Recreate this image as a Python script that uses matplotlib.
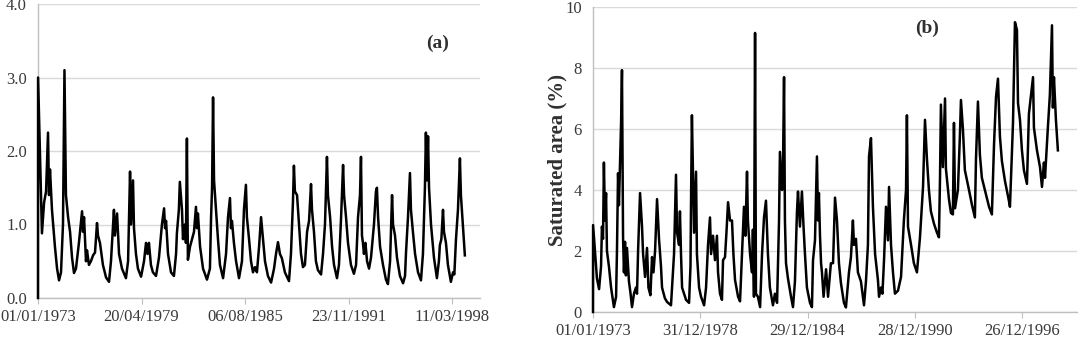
import matplotlib
matplotlib.use("Agg")
import matplotlib.pyplot as plt
import numpy as np

# ---------------- data ----------------
# Panel (a): decimal year, value
a_year = [1973.00, 1973.005, 1973.24, 1973.37, 1973.49, 1973.61, 1973.67, 1973.73, 1973.85, 1974.03,
          1974.16, 1974.28, 1974.40, 1974.52, 1974.61, 1974.70, 1974.83, 1974.95, 1975.07, 1975.19,
          1975.31, 1975.49, 1975.68, 1975.74, 1975.80, 1975.92, 1975.98, 1976.10, 1976.22, 1976.35,
          1976.47, 1976.59, 1976.65, 1976.77, 1976.95, 1977.14, 1977.32, 1977.44, 1977.62, 1977.68,
          1977.81, 1977.93, 1978.11, 1978.35, 1978.48, 1978.60, 1978.66, 1978.78, 1978.84, 1978.96,
          1979.08, 1979.27, 1979.45, 1979.57, 1979.66, 1979.75, 1979.87, 1979.99, 1980.18, 1980.36,
          1980.54, 1980.67, 1980.73, 1980.79, 1980.91, 1981.09, 1981.27, 1981.40, 1981.45, 1981.57,
          1981.63, 1981.76, 1981.82, 1981.94, 1982.00, 1982.06, 1982.12, 1982.25, 1982.49, 1982.61,
          1982.67, 1982.73, 1982.86, 1983.04, 1983.28, 1983.46, 1983.53, 1983.59, 1983.65, 1983.71,
          1983.83, 1983.95, 1984.07, 1984.26, 1984.44, 1984.56, 1984.68, 1984.74, 1984.80, 1984.92,
          1985.05, 1985.23, 1985.41, 1985.53, 1985.65, 1985.71, 1985.84, 1985.96, 1986.08, 1986.20,
          1986.32, 1986.45, 1986.57, 1986.69, 1986.81, 1986.99, 1987.18, 1987.36, 1987.48, 1987.60,
          1987.72, 1987.84, 1988.02, 1988.27, 1988.39, 1988.51, 1988.57, 1988.63, 1988.76, 1988.88,
          1989.00, 1989.12, 1989.24, 1989.37, 1989.49, 1989.61, 1989.67, 1989.79, 1989.91, 1990.03,
          1990.22, 1990.34, 1990.46, 1990.58, 1990.64, 1990.77, 1990.89, 1991.01, 1991.19, 1991.31,
          1991.44, 1991.56, 1991.62, 1991.74, 1991.86, 1992.04, 1992.22, 1992.35, 1992.47, 1992.59,
          1992.65, 1992.71, 1992.77, 1992.83, 1992.92, 1993.02, 1993.14, 1993.26, 1993.44, 1993.56,
          1993.62, 1993.69, 1993.81, 1993.99, 1994.17, 1994.29, 1994.42, 1994.54, 1994.60, 1994.72,
          1994.84, 1995.02, 1995.21, 1995.33, 1995.39, 1995.51, 1995.63, 1995.69, 1995.81, 1995.94,
          1996.12, 1996.30, 1996.42, 1996.54, 1996.60, 1996.66, 1996.73, 1996.79, 1996.91, 1997.09,
          1997.27, 1997.39, 1997.45, 1997.54, 1997.64, 1997.70, 1997.82, 1997.94, 1998.12, 1998.25,
          1998.33, 1998.43, 1998.55, 1998.67, 1998.73, 1998.85, 1998.97]
a_val = [0.00, 3.00, 0.88, 1.30, 1.45, 2.25, 1.40, 1.75, 1.20, 0.70,
         0.40, 0.24, 0.35, 1.00, 3.10, 1.40, 1.10, 0.90, 0.55, 0.34,
         0.40, 0.75, 1.18, 0.90, 1.10, 0.50, 0.65, 0.45, 0.50, 0.58,
         0.62, 1.02, 0.85, 0.75, 0.45, 0.28, 0.22, 0.50, 1.20, 0.85,
         1.15, 0.60, 0.40, 0.27, 0.50, 1.72, 1.00, 1.60, 0.95, 0.60,
         0.40, 0.29, 0.50, 0.75, 0.60, 0.75, 0.45, 0.35, 0.30, 0.55,
         1.00, 1.22, 0.95, 1.05, 0.60, 0.35, 0.30, 0.60, 0.88, 1.20,
         1.58, 1.20, 0.80, 1.00, 0.75, 2.17, 0.52, 0.70, 0.90, 1.24,
         0.95, 1.15, 0.70, 0.40, 0.25, 0.40, 1.10, 1.50, 2.73, 1.60,
         1.20, 0.80, 0.45, 0.27, 0.60, 1.10, 1.36, 0.95, 1.05, 0.75,
         0.50, 0.27, 0.50, 1.20, 1.54, 1.10, 0.80, 0.50, 0.35, 0.42,
         0.35, 0.70, 1.10, 0.80, 0.50, 0.30, 0.21, 0.40, 0.60, 0.76,
         0.60, 0.54, 0.35, 0.23, 0.60, 1.30, 1.80, 1.45, 1.40, 1.00,
         0.60, 0.42, 0.45, 0.90, 1.05, 1.55, 1.20, 0.90, 0.50, 0.38,
         0.32, 0.60, 1.00, 1.92, 1.40, 1.10, 0.70, 0.45, 0.27, 0.45,
         1.10, 1.81, 1.40, 1.10, 0.75, 0.45, 0.33, 0.45, 1.10, 1.40,
         1.92, 0.85, 0.75, 0.60, 0.75, 0.50, 0.40, 0.55, 1.00, 1.45,
         1.50, 1.10, 0.70, 0.45, 0.25, 0.19, 0.50, 1.40, 1.00, 0.85,
         0.55, 0.30, 0.20, 0.30, 0.62, 1.10, 1.70, 1.20, 0.90, 0.60,
         0.35, 0.24, 0.60, 1.50, 2.25, 1.60, 2.20, 1.50, 1.00, 0.55,
         0.27, 0.50, 0.72, 0.80, 1.20, 0.90, 0.75, 0.45, 0.22, 0.35,
         0.32, 0.80, 1.20, 1.90, 1.40, 1.00, 0.58]

# Panel (b): decimal year, saturated area (%)
b_year = [1973.00, 1973.005, 1973.22, 1973.34, 1973.45, 1973.50, 1973.56, 1973.61, 1973.67, 1973.73,
          1973.78, 1973.89, 1974.01, 1974.17, 1974.29, 1974.34, 1974.40, 1974.45, 1974.57, 1974.62,
          1974.68, 1974.73, 1974.79, 1974.84, 1974.90, 1975.01, 1975.10, 1975.18, 1975.29, 1975.40,
          1975.46, 1975.52, 1975.63, 1975.74, 1975.80, 1975.91, 1976.02, 1976.10, 1976.21, 1976.30,
          1976.38, 1976.47, 1976.58, 1976.69, 1976.80, 1976.86, 1977.02, 1977.14, 1977.36, 1977.53,
          1977.64, 1977.70, 1977.81, 1977.86, 1977.92, 1977.98, 1978.20, 1978.37, 1978.45, 1978.48,
          1978.53, 1978.65, 1978.76, 1978.81, 1978.93, 1979.04, 1979.21, 1979.32, 1979.43, 1979.54,
          1979.60, 1979.71, 1979.82, 1979.93, 1979.99, 1980.10, 1980.21, 1980.27, 1980.38, 1980.46,
          1980.55, 1980.66, 1980.77, 1980.85, 1980.94, 1981.11, 1981.22, 1981.33, 1981.44, 1981.52,
          1981.61, 1981.66, 1981.78, 1981.89, 1981.94, 1982.00, 1982.06, 1982.11, 1982.22, 1982.34,
          1982.45, 1982.56, 1982.67, 1982.78, 1982.89, 1983.01, 1983.06, 1983.17, 1983.29, 1983.40,
          1983.45, 1983.57, 1983.62, 1983.68, 1983.73, 1983.79, 1983.90, 1984.07, 1984.18, 1984.29,
          1984.40, 1984.46, 1984.57, 1984.68, 1984.77, 1984.85, 1984.96, 1985.13, 1985.24, 1985.30,
          1985.41, 1985.52, 1985.58, 1985.63, 1985.69, 1985.75, 1985.80, 1985.89, 1986.03, 1986.14,
          1986.30, 1986.42, 1986.53, 1986.64, 1986.70, 1986.75, 1986.86, 1987.03, 1987.14, 1987.31,
          1987.42, 1987.53, 1987.59, 1987.70, 1987.81, 1987.98, 1988.15, 1988.26, 1988.37, 1988.43,
          1988.54, 1988.65, 1988.77, 1988.93, 1988.99, 1989.10, 1989.18, 1989.27, 1989.38, 1989.49,
          1989.55, 1989.66, 1989.77, 1989.88, 1990.05, 1990.22, 1990.38, 1990.50, 1990.55, 1990.61,
          1990.78, 1990.94, 1991.11, 1991.28, 1991.45, 1991.56, 1991.67, 1991.78, 1991.89, 1992.06,
          1992.23, 1992.34, 1992.40, 1992.45, 1992.56, 1992.68, 1992.73, 1992.90, 1993.01, 1993.12,
          1993.18, 1993.24, 1993.40, 1993.51, 1993.57, 1993.68, 1993.79, 1994.02, 1994.19, 1994.35,
          1994.41, 1994.52, 1994.63, 1994.74, 1994.91, 1995.14, 1995.30, 1995.42, 1995.53, 1995.64,
          1995.75, 1995.86, 1996.03, 1996.25, 1996.31, 1996.48, 1996.59, 1996.70, 1996.76, 1996.87,
          1996.98, 1997.09, 1997.26, 1997.37, 1997.60, 1997.65, 1997.82, 1997.99, 1998.10, 1998.21,
          1998.27, 1998.43, 1998.54, 1998.66, 1998.71, 1998.77, 1998.88, 1998.99]
b_val = [0.00, 2.85, 1.10, 0.75, 1.50, 2.80, 2.40, 4.90, 3.00, 3.90,
         2.00, 1.50, 0.80, 0.16, 0.50, 2.00, 4.55, 3.50, 6.20, 7.93,
         2.45, 1.30, 2.30, 1.20, 2.10, 1.00, 0.60, 0.16, 0.60, 0.80,
         0.60, 2.00, 3.90, 2.80, 1.90, 1.15, 2.10, 0.80, 0.55, 1.80,
         1.30, 2.00, 3.70, 2.40, 1.50, 0.80, 0.45, 0.33, 0.22, 1.90,
         4.50, 2.60, 2.20, 3.30, 1.90, 0.80, 0.40, 0.30, 1.50, 3.60,
         6.45, 2.60, 4.60, 1.90, 0.80, 0.50, 0.22, 0.80, 2.20, 3.10,
         1.90, 2.50, 1.70, 2.50, 1.30, 0.60, 0.40, 1.70, 1.80, 2.60,
         3.60, 3.00, 3.00, 1.90, 1.05, 0.50, 0.35, 1.90, 3.45, 2.50,
         4.60, 3.00, 1.90, 1.30, 2.70, 0.50, 9.15, 0.60, 0.50, 0.16,
         1.90, 3.10, 3.65, 1.90, 0.80, 0.40, 0.22, 0.60, 0.30, 3.00,
         5.25, 4.00, 4.65, 7.70, 3.00, 1.60, 1.10, 0.50, 0.16, 1.00,
         3.25, 3.95, 2.80, 3.95, 2.80, 1.90, 0.80, 0.30, 0.16, 1.70,
         2.35, 5.10, 3.00, 3.90, 2.50, 1.60, 1.30, 0.50, 1.40, 0.50,
         1.60, 1.60, 3.75, 3.00, 2.20, 1.60, 0.95, 0.30, 0.15, 1.30,
         1.80, 3.00, 2.20, 2.40, 1.30, 1.00, 0.22, 1.00, 2.20, 5.10,
         5.70, 3.45, 1.90, 1.05, 0.50, 0.80, 0.60, 1.70, 3.45, 2.35,
         4.10, 2.20, 1.30, 0.60, 0.70, 1.15, 3.00, 4.00, 6.45, 2.80,
         2.20, 1.60, 1.30, 2.45, 4.10, 6.30, 5.00, 4.00, 3.30, 2.90,
         2.60, 2.45, 4.40, 6.80, 4.75, 7.00, 4.70, 3.70, 3.25, 3.20,
         6.20, 3.40, 4.00, 5.75, 6.95, 6.00, 4.65, 4.00, 3.50, 3.10,
         5.00, 6.90, 5.15, 4.40, 4.00, 3.45, 3.20, 5.50, 7.05, 7.65,
         5.75, 4.95, 4.30, 3.65, 3.45, 6.20, 9.50, 9.25, 6.85, 6.30,
         5.30, 4.65, 4.20, 6.50, 7.70, 6.05, 5.30, 4.75, 4.10, 4.90,
         4.40, 6.05, 7.10, 9.40, 6.70, 7.70, 6.30, 5.30]

a_tick_days = [0, 2300, 4600, 6900, 9200]
a_tick_labels = ["01/01/1973", "20/04/1979", "06/08/1985", "23/11/1991", "11/03/1998"]
b_tick_days = [0, 2190, 4380, 6570, 8760]
b_tick_labels = ["01/01/1973", "31/12/1978", "29/12/1984", "28/12/1990", "26/12/1996"]
a_yticks = [0.0, 1.0, 2.0, 3.0, 4.0]
b_yticks = [0, 2, 4, 6, 8, 10]
b_ylabel = "Saturated area (%)"

# ---------------- style ----------------
plt.rcParams['font.family'] = ['Liberation Serif', 'DejaVu Serif']
TXT = '#3a3a3a'
GRID = '#d9d9d9'
AX = '#bfbfbf'

fig = plt.figure(figsize=(10.79, 3.5), dpi=100)
axa = fig.add_axes([38/1079, 1-298/350, (480-38)/1079, (298-4)/350])
axb = fig.add_axes([593/1079, 1-312/350, (1077-593)/1079, (312-7)/350])


def to_days(years):
    return (np.asarray(years) - 1973.0) * 365.25


def style(ax, yticks, xticks, xlabels, xmax, fmt):
    ax.set_xlim(0, xmax)
    ax.set_ylim(yticks[0], yticks[-1])
    ax.set_yticks(yticks)
    ax.set_yticklabels([fmt.format(v) for v in yticks])
    ax.set_xticks(xticks)
    ax.set_xticklabels(xlabels)
    ax.grid(axis='y', color=GRID, lw=1.0)
    ax.set_axisbelow(True)
    for s in ['top', 'right']:
        ax.spines[s].set_visible(False)
    for s in ['left', 'bottom']:
        ax.spines[s].set_color(AX)
        ax.spines[s].set_linewidth(1.0)
    ax.tick_params(axis='x', length=4, color=AX, labelsize=12, labelcolor=TXT, pad=4)
    ax.tick_params(axis='y', length=0, labelsize=12, labelcolor=TXT, pad=8)


axa.plot(to_days(a_year), a_val, color='black', lw=1.8, solid_joinstyle='round',
         zorder=3, clip_on=False)
style(axa, a_yticks, a_tick_days, a_tick_labels, 9822, '{:.1f}')
axa.text(0.905, 0.865, '(a)', transform=axa.transAxes, ha='center', va='center',
         fontsize=14, fontweight='bold', color='#303030')

axb.plot(to_days(b_year), b_val, color='black', lw=1.8, solid_joinstyle='round',
         zorder=3, clip_on=False)
style(axb, b_yticks, b_tick_days, b_tick_labels, 9883, '{:d}')
axb.set_ylabel(b_ylabel, fontsize=15, fontweight='bold', color='#303030')
axb.yaxis.set_label_coords(-0.052, 0.5)
axb.text(0.69, 0.93, '(b)', transform=axb.transAxes, ha='center', va='center',
         fontsize=14, fontweight='bold', color='#303030')

fig.savefig('out.png', dpi=100)
